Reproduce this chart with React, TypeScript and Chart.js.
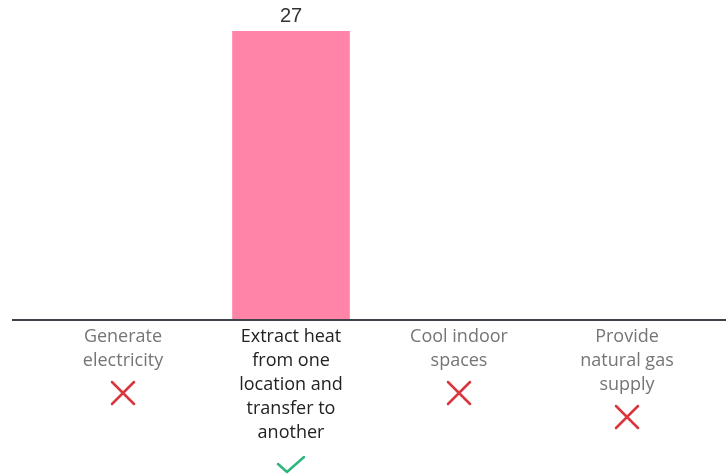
import React, { useEffect, useRef } from "react";
import { Chart, registerables } from "chart.js";

Chart.register(...registerables);

const categories: string[][] = [
  ["Generate", "electricity"],
  ["Extract heat", "from one", "location and", "transfer to", "another"],
  ["Cool indoor", "spaces"],
  ["Provide", "natural gas", "supply"],
];
const responses: number[] = [0, 27, 0, 0];
const isCorrect: boolean[] = [false, true, false, false];

const LINE_H = 24;

const overlay = {
  id: "overlay",
  afterDraw(chart: any) {
    const { ctx, chartArea } = chart;
    const x = chart.scales.x;
    const y = chart.scales.y;
    ctx.save();
    // baseline across the full width
    ctx.strokeStyle = "#3d4249";
    ctx.lineWidth = 2;
    ctx.beginPath();
    ctx.moveTo(12, chartArea.bottom);
    ctx.lineTo(chart.width, chartArea.bottom);
    ctx.stroke();

    // value labels for non-zero bars
    ctx.fillStyle = "#333333";
    ctx.font = "20px 'Liberation Sans', Arial, sans-serif";
    ctx.textAlign = "center";
    ctx.textBaseline = "middle";
    responses.forEach((v, i) => {
      if (v > 0) {
        ctx.fillText(String(v), x.getPixelForTick(i), y.getPixelForValue(v) - 15);
      }
    });

    // correct / incorrect markers below each label
    categories.forEach((lines, i) => {
      const cx = x.getPixelForTick(i);
      const cy = chartArea.bottom + 16 + (lines.length - 1) * LINE_H + 33;
      ctx.lineWidth = 2.5;
      ctx.lineCap = "round";
      ctx.lineJoin = "round";
      ctx.beginPath();
      if (isCorrect[i]) {
        ctx.strokeStyle = "#2fb67c";
        ctx.moveTo(cx - 13, cy - 1);
        ctx.lineTo(cx - 4, cy + 7);
        ctx.lineTo(cx + 13, cy - 8);
      } else {
        ctx.strokeStyle = "#d9363e";
        ctx.moveTo(cx - 11, cy - 11);
        ctx.lineTo(cx + 11, cy + 11);
        ctx.moveTo(cx + 11, cy - 11);
        ctx.lineTo(cx - 11, cy + 11);
      }
      ctx.stroke();
    });
    ctx.restore();
  },
};

export default function App() {
  const ref = useRef<HTMLCanvasElement>(null);
  useEffect(() => {
    if (!ref.current) return;
    const chart = new Chart(ref.current, {
      type: "bar",
      data: {
        labels: categories,
        datasets: [
          {
            data: responses,
            backgroundColor: "#ff84a7",
            barPercentage: 0.7,
            categoryPercentage: 1,
          },
        ],
      },
      options: {
        animation: false,
        responsive: false,
        layout: { padding: { left: 39, right: 15, top: 31, bottom: 0 } },
        plugins: { legend: { display: false }, tooltip: { enabled: false } },
        scales: {
          y: { display: false, min: 0, max: 27 },
          x: {
            grid: { display: false },
            border: { display: false },
            afterFit(scale: any) {
              scale.height = 156;
            },
            ticks: {
              autoSkip: false,
              maxRotation: 0,
              padding: -3,
              font: { family: "'Open Sans', 'Noto Sans', sans-serif", size: 18, lineHeight: LINE_H / 18 },
              color: (c: any) => (isCorrect[c.index] ? "#222222" : "#757575"),
            },
          },
        },
      },
      plugins: [overlay],
    });
    return () => chart.destroy();
  }, []);
  return (
    <div style={{ position: "absolute", left: 0, top: 0, width: 726, height: 476, background: "#fff" }}>
      <canvas ref={ref} width={726} height={476} />
    </div>
  );
}
